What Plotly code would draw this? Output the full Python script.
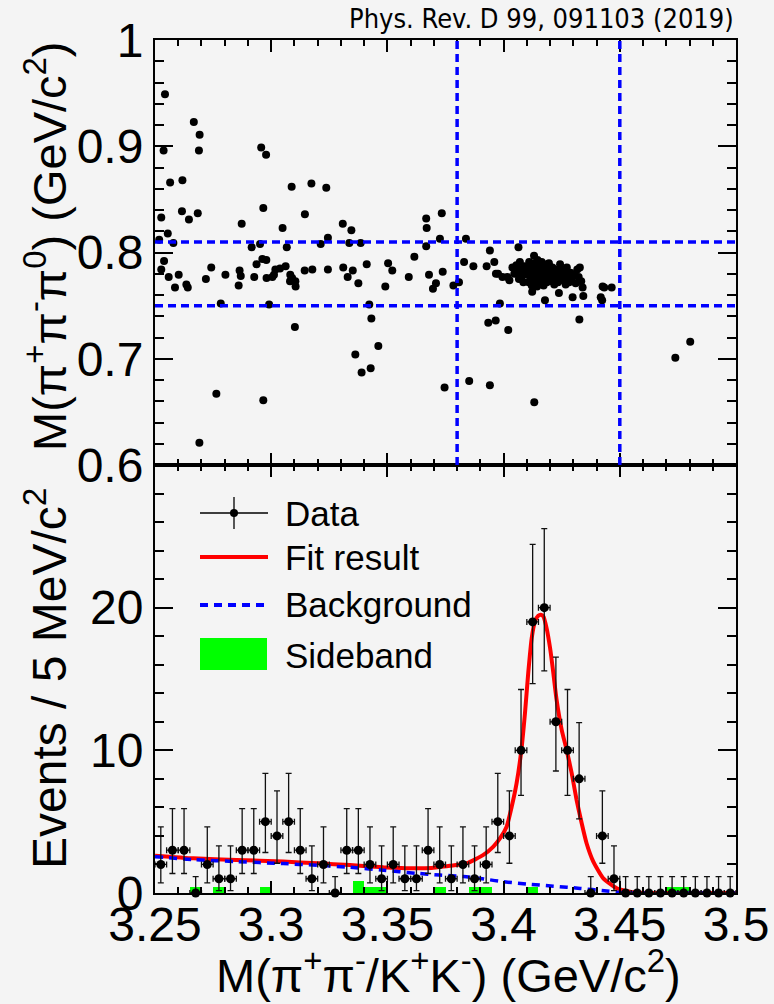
import plotly.graph_objects as go
from plotly.subplots import make_subplots

# ---------------- data ----------------
# top panel: scatter of M(pi+ pi- / K+ K-) vs M(pi+ pi- pi0)
scatter_m = [
    3.2543, 3.2667, 3.2692, 3.2689, 3.2537, 3.2957, 3.2978, 3.2565, 3.2618, 3.3088,
    3.3173, 3.3237, 3.2616, 3.2684, 3.2646, 3.2527, 3.2966, 3.3145, 3.2555, 3.2873,
    3.3049, 3.3308, 3.3345, 3.3244, 3.3667, 3.3669, 3.3734, 3.3726, 3.2518, 3.2579,
    3.2952, 3.2916, 3.3067, 3.3213, 3.3336, 3.3385, 3.3667, 3.2539, 3.2527, 3.2559,
    3.2602, 3.2586, 3.2635, 3.2641, 3.2719, 3.2742, 3.2803, 3.2864, 3.2869, 3.2860,
    3.2927, 3.2937, 3.2962, 3.2979, 3.2980, 3.3005, 3.3018, 3.3038, 3.3062, 3.3082,
    3.3081, 3.3104, 3.3105, 3.3144, 3.3177, 3.3244, 3.3310, 3.3329, 3.3351, 3.3375,
    3.3411, 3.3491, 3.3503, 3.3521, 3.3592, 3.3616, 3.3679, 3.3696, 3.3709, 3.3738,
    3.3784, 3.2783, 3.2991, 3.3422, 3.3431, 3.3102, 3.3461, 3.3362, 3.3389, 3.3428,
    3.3746, 3.2764, 3.2966, 3.2691, 3.3012, 3.3090,
    3.3838, 3.3808, 3.3830, 3.3870, 3.3941, 3.3927, 3.3960, 3.3967, 3.3976, 3.3995,
    3.3984, 3.3934, 3.3966, 3.4020, 3.3852, 3.3941, 3.4132, 3.4326, 3.4739, 3.4803,
    3.4064,
    3.4016, 3.4025, 3.4038, 3.4046,
    3.4055, 3.4060, 3.4066, 3.4070, 3.4074, 3.4079, 3.4085, 3.4089, 3.4094,
    3.4102, 3.4105, 3.4108, 3.4110, 3.4113, 3.4116, 3.4118, 3.4121, 3.4123, 3.4125,
    3.4128, 3.4131, 3.4133, 3.4136, 3.4139, 3.4141, 3.4144, 3.4146, 3.4148,
    3.4152, 3.4154, 3.4157, 3.4159, 3.4162, 3.4164, 3.4167, 3.4169, 3.4172, 3.4174,
    3.4176, 3.4178, 3.4181, 3.4183, 3.4186, 3.4188, 3.4191, 3.4193, 3.4195, 3.4197,
    3.4203, 3.4207, 3.4210, 3.4214, 3.4218, 3.4222, 3.4226, 3.4230, 3.4234, 3.4238,
    3.4243, 3.4247,
    3.4253, 3.4257, 3.4262, 3.4267, 3.4272, 3.4277, 3.4282, 3.4288, 3.4293, 3.4297,
    3.4305, 3.4310, 3.4317, 3.4323, 3.4328, 3.4334, 3.4340, 3.4343,
    3.4418, 3.4424, 3.4426, 3.4433, 3.4465,
]
scatter_v = [
    0.949, 0.923, 0.911, 0.896, 0.896, 0.899, 0.892, 0.866, 0.868, 0.862,
    0.865, 0.861, 0.839, 0.837, 0.831, 0.833, 0.842, 0.836, 0.818, 0.827,
    0.823, 0.827, 0.821, 0.814, 0.832, 0.823, 0.837, 0.813, 0.812, 0.809,
    0.808, 0.805, 0.805, 0.808, 0.809, 0.809, 0.806, 0.792, 0.784, 0.777,
    0.779, 0.767, 0.770, 0.767, 0.775, 0.786, 0.779, 0.783, 0.778, 0.769,
    0.777, 0.789, 0.794, 0.793, 0.776, 0.777, 0.784, 0.785, 0.787, 0.779,
    0.773, 0.773, 0.768, 0.783, 0.784, 0.784, 0.786, 0.777, 0.783, 0.771,
    0.789, 0.768, 0.790, 0.783, 0.777, 0.796, 0.779, 0.766, 0.771, 0.782,
    0.769, 0.752, 0.751, 0.751, 0.738, 0.730, 0.712, 0.704, 0.687, 0.691,
    0.673, 0.667, 0.661, 0.621, 0.779, 0.776,
    0.813, 0.772, 0.791, 0.787, 0.802, 0.787, 0.791, 0.780, 0.780, 0.777,
    0.752, 0.734, 0.736, 0.727, 0.679, 0.675, 0.659, 0.737, 0.701, 0.716,
    0.805,
    0.777, 0.774, 0.786, 0.780,
    0.788, 0.781, 0.775, 0.791, 0.784, 0.778, 0.772, 0.787, 0.781,
    0.779, 0.786, 0.772, 0.791, 0.781, 0.775, 0.788, 0.769, 0.763, 0.783,
    0.777, 0.797, 0.790, 0.772, 0.785, 0.779, 0.768, 0.793, 0.782,
    0.776, 0.788, 0.771, 0.783, 0.779, 0.791, 0.774, 0.785, 0.769, 0.780,
    0.787, 0.755, 0.776, 0.782, 0.772, 0.789, 0.778, 0.784, 0.790, 0.775,
    0.781, 0.773, 0.786, 0.778, 0.770, 0.784, 0.776, 0.781, 0.772, 0.762,
    0.789, 0.779,
    0.784, 0.774, 0.780, 0.770, 0.786, 0.777, 0.772, 0.781, 0.775, 0.758,
    0.779, 0.771, 0.784, 0.777, 0.786, 0.773, 0.767, 0.759,
    0.758, 0.755, 0.768, 0.767, 0.767,
]

# selection windows drawn as dashed lines in the top panel
cut_mass = [3.38, 3.45]      # signal region in M(pi+pi-/K+K-)
cut_omega = [0.75, 0.81]     # omega window in M(pi+pi-pi0)

# bottom panel: 5 MeV bins from 3.25 to 3.50
bin_lo = 3.25
bin_width = 0.005
counts = [2, 3, 3, 0, 2, 1, 1, 3, 3, 5,
          4, 5, 3, 1, 2, 0, 3, 3, 2, 1,
          2, 1, 1, 3, 2, 1, 2, 1, 2, 5,
          4, 10, 19, 20, 12, 10, 8, 0, 4, 1,
          0, 0, 0, 0, 0, 0, 0, 0, 0, 0]
sideband = [0, 0, 0, 0.42, 0, 0.42, 0, 0, 0, 0.42,
            0, 0, 0, 0, 0, 0, 0, 0.86, 0.42, 0.42,
            0, 0, 0, 0, 0.42, 0, 0, 0.42, 0.42, 0,
            0, 0, 0.42, 0, 0, 0, 0, 0, 0, 0,
            0, 0, 0, 0, 0.42, 0.42, 0, 0, 0, 0]
# asymmetric Poisson (68.3%) errors for the observed counts
poisson_err_lo = {0: 0.0, 1: 0.827, 2: 1.292, 3: 1.633, 4: 1.914, 5: 2.160,
                  8: 2.810, 10: 3.162, 12: 3.450, 19: 4.320, 20: 4.434}
poisson_err_hi = {0: 1.148, 1: 2.300, 2: 2.638, 3: 2.918, 4: 3.163, 5: 3.383,
                  8: 3.946, 10: 4.264, 12: 4.534, 19: 5.435, 20: 5.546}

# fit result (total) and background curves
fit_m = [3.2500, 3.2665, 3.2850, 3.3052, 3.3200, 3.3339, 3.3483, 3.3560, 3.3626, 3.3690,
         3.3741, 3.3769, 3.3841, 3.3913, 3.3956, 3.3985, 3.4013, 3.4035, 3.4056, 3.4076,
         3.4092, 3.4106, 3.4121, 3.4135, 3.4149, 3.4160, 3.4171, 3.4185, 3.4200, 3.4214,
         3.4228, 3.4250, 3.4271, 3.4293, 3.4314, 3.4336, 3.4357, 3.4386, 3.4429, 3.4487,
         3.4558, 3.4630, 3.4800, 3.5000]
fit_v = [2.62, 2.43, 2.32, 2.20, 2.08, 1.96, 1.80, 1.75, 1.73, 1.76,
         1.85, 1.91, 2.08, 2.67, 3.25, 3.84, 4.65, 6.06, 7.70, 9.96,
         12.61, 15.42, 17.87, 19.04, 19.44, 19.51, 19.39, 18.57, 17.17, 15.42,
         13.54, 11.44, 10.04, 8.40, 6.53, 4.89, 3.49, 2.20, 1.03, 0.33,
         0.05, 0.0, 0.0, 0.0]
bg_m = [3.2500, 3.2665, 3.2850, 3.3052, 3.3200, 3.3339, 3.3483, 3.3626, 3.3726, 3.3827,
        3.3900, 3.3985, 3.4099, 3.4214, 3.4329, 3.4444, 3.4500, 3.4560, 3.4800, 3.5000]
bg_v = [2.55, 2.34, 2.20, 2.06, 1.94, 1.80, 1.60, 1.38, 1.26, 1.15,
        1.02, 0.82, 0.63, 0.48, 0.32, 0.14, 0.04, 0.0, 0.0, 0.0]

x_tickvals = [3.25, 3.30, 3.35, 3.40, 3.45, 3.50]
x_ticktext = ["3.25", "3.3", "3.35", "3.4", "3.45", "3.5"]
y1_tickvals = [0.6, 0.7, 0.8, 0.9, 1.0]
y1_ticktext = ["0.6", "0.7", "0.8", "0.9", "1"]
y2_tickvals = [0, 10, 20]
y2_ticktext = ["0", "10", "20"]

legend_labels = ["Data", "Fit result", "Background", "Sideband"]

# ---------------- figure ----------------
BG = "#f4f4f4"
FONT = "Liberation Sans, Arial, Helvetica, sans-serif"
centers = [bin_lo + (i + 0.5) * bin_width for i in range(len(counts))]
err_hi = [poisson_err_hi[c] for c in counts]
err_lo = [poisson_err_lo[c] for c in counts]

fig = make_subplots(rows=2, cols=1, shared_xaxes=True, vertical_spacing=0,
                    row_heights=[425, 428])

fig.add_trace(go.Scatter(x=scatter_m, y=scatter_v, mode="markers",
                         marker=dict(color="black", size=8),
                         showlegend=False, cliponaxis=True), row=1, col=1)

fig.add_trace(go.Bar(x=centers, y=sideband, width=bin_width,
                     marker=dict(color="#00ff00", line=dict(width=0)),
                     showlegend=False), row=2, col=1)
fig.add_trace(go.Scatter(x=fit_m, y=fit_v, mode="lines",
                         line=dict(color="#ff0000", width=4, shape="spline", smoothing=0.5),
                         showlegend=False), row=2, col=1)
fig.add_trace(go.Scatter(x=bg_m, y=bg_v, mode="lines",
                         line=dict(color="#0000ff", width=3.5, dash="8px,6px",
                                   shape="spline", smoothing=0.8),
                         showlegend=False), row=2, col=1)
fig.add_trace(go.Scatter(x=centers, y=counts, mode="markers",
                         marker=dict(color="black", size=9),
                         error_y=dict(type="data", symmetric=False, array=err_hi,
                                      arrayminus=err_lo, color="#111111",
                                      thickness=1.3, width=3),
                         error_x=dict(type="constant", value=bin_width / 2,
                                      color="#111111", thickness=1.3, width=3),
                         cliponaxis=False, showlegend=False), row=2, col=1)

# selection window lines (top panel)
for xv in cut_mass:
    fig.add_shape(type="line", xref="x", yref="y domain", x0=xv, x1=xv, y0=0, y1=1,
                  line=dict(color="#0000ff", width=3.5, dash="8px,5px"))
for yv in cut_omega:
    fig.add_shape(type="line", xref="x domain", yref="y", x0=0, x1=1, y0=yv, y1=yv,
                  line=dict(color="#0000ff", width=3.5, dash="8px,5px"))

axis_common = dict(showline=True, linecolor="black", linewidth=2, mirror="allticks",
                   ticks="inside", tickcolor="black", tickwidth=1.5,
                   showgrid=False, zeroline=False, automargin=False,
                   tickfont=dict(family=FONT, size=48, color="black"))

fig.update_xaxes(axis_common, range=[3.25, 3.5], tickmode="array",
                 tickvals=x_tickvals, ticktext=x_ticktext, ticklen=12,
                 ticklabelstandoff=-12,
                 minor=dict(dtick=0.01, tick0=3.25, ticklen=6, ticks="inside",
                            tickcolor="black", tickwidth=1.5, showgrid=False))
fig.update_xaxes(showticklabels=False, row=1, col=1)
fig.update_yaxes(axis_common, range=[0.6, 1.0001], tickmode="array",
                 tickvals=y1_tickvals, ticktext=y1_ticktext, ticklen=18,
                 minor=dict(dtick=0.02, tick0=0.6, ticklen=9, ticks="inside",
                            tickcolor="black", tickwidth=1.5, showgrid=False),
                 row=1, col=1)
fig.update_yaxes(axis_common, range=[0, 30], tickmode="array",
                 tickvals=y2_tickvals, ticktext=y2_ticktext, ticklen=18,
                 minor=dict(dtick=2, tick0=0, ticklen=9, ticks="inside",
                            tickcolor="black", tickwidth=1.5, showgrid=False),
                 row=2, col=1)

# ---- pixel helpers for decorations (paper coordinates) ----
L, R, T, B = 155, 38, 40, 111
W, H = 774, 1004
PW, PH = W - L - R, H - T - B


def px(x):
    return (x - L) / PW


def py(y):
    return (H - B - y) / PH


annotations = [
    dict(text="M(π<sup>+</sup>π<sup>-</sup>/K<sup>+</sup>K<sup>-</sup>) (GeV/c<sup>2</sup>)",
         x=px(448), y=py(972), xref="paper", yref="paper", showarrow=False,
         xanchor="center", yanchor="middle", font=dict(family=FONT, size=47, color="black")),
    dict(text="M(π<sup>+</sup>π<sup>-</sup>π<sup>0</sup>) (GeV/c<sup>2</sup>)",
         x=px(46), y=py(246), xref="paper", yref="paper", showarrow=False, textangle=-90,
         xanchor="center", yanchor="middle", font=dict(family=FONT, size=47, color="black")),
    dict(text="Events / 5 MeV/c<sup>2</sup>",
         x=px(46), y=py(678), xref="paper", yref="paper", showarrow=False, textangle=-90,
         xanchor="center", yanchor="middle", font=dict(family=FONT, size=48, color="black")),
    dict(text="Phys. Rev. D 99, 091103 (2019)",
         x=px(736), y=py(19), xref="paper", yref="paper", showarrow=False,
         xanchor="right", yanchor="middle",
         font=dict(family="DejaVu Sans Condensed, Liberation Sans Narrow, Roboto Condensed, Roboto, sans-serif",
                   size=27, color="#000000")),
]

# custom legend (drawn in paper coordinates)
leg_y = [513, 557, 604, 655]
for lab, yy in zip(legend_labels, leg_y):
    annotations.append(dict(text=lab, x=px(283), y=py(yy), xref="paper", yref="paper",
                            showarrow=False, xanchor="left", yanchor="middle",
                            font=dict(family=FONT, size=35, color="black")))

shapes = [
    dict(type="line", xref="paper", yref="paper", x0=px(200), x1=px(268),
         y0=py(513), y1=py(513), line=dict(color="black", width=1.3)),
    dict(type="line", xref="paper", yref="paper", x0=px(234), x1=px(234),
         y0=py(497), y1=py(529), line=dict(color="black", width=1.3)),
    dict(type="circle", xref="paper", yref="paper", x0=px(230), x1=px(238),
         y0=py(517), y1=py(509), fillcolor="black", line=dict(color="black", width=0)),
    dict(type="line", xref="paper", yref="paper", x0=px(200), x1=px(268),
         y0=py(557), y1=py(557), line=dict(color="#ff0000", width=4)),
    dict(type="line", xref="paper", yref="paper", x0=px(200), x1=px(264),
         y0=py(605), y1=py(605), line=dict(color="#0000ff", width=4, dash="8px,6px")),
    dict(type="rect", xref="paper", yref="paper", x0=px(200), x1=px(267),
         y0=py(670), y1=py(638), fillcolor="#00ff00", line=dict(width=0)),
]
for s in shapes:
    fig.add_shape(s)

fig.update_layout(width=W, height=H, margin=dict(l=L, r=R, t=T, b=B, autoexpand=False),
                  paper_bgcolor=BG, plot_bgcolor=BG, showlegend=False,
                  bargap=0, annotations=annotations,
                  font=dict(family=FONT, color="black"))

fig.write_html("out.html")
